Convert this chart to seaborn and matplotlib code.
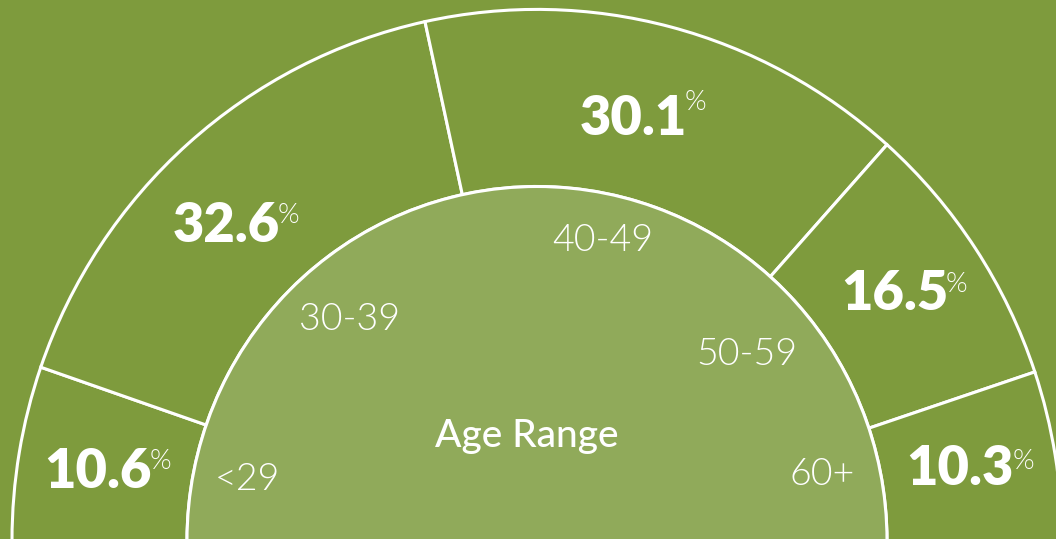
import seaborn as sns
import matplotlib.pyplot as plt

# age groups and their share (%)
age_groups = ["<29", "30-39", "40-49", "50-59", "60+"]
shares = [10.6, 32.6, 30.1, 16.5, 10.3]
center_title = "Age Range"

# label layout in image pixels (x, y from top)
pct_pos = [(152, 488), (280, 242), (687, 135), (948, 310), (1014, 485)]
sign_pos = [(150, 449), (278, 203), (685, 90), (946, 272), (1013, 449)]
group_pos = [(247, 490), (350, 330), (603, 251), (747, 365), (822, 485)]

ring_color = "#7e9b3d"
inner_color = "#90aa5a"
CY = 540.7   # centre of the arcs, pixels from top
YS = 1.012   # small vertical stretch seen in the picture


def to_data(px, py):
    return px, (CY - py) / YS


sns.set_style("white")
plt.rcParams["font.family"] = ["Lato", "DejaVu Sans"]

fig = plt.figure(figsize=(10.56, 5.39), dpi=100, facecolor=ring_color)
ax = fig.add_axes([0, 0, 1, 1])
ax.set_facecolor(ring_color)

# outer ring: the real shares fill the upper half, a hidden slice fills the rest
wedges, _ = ax.pie(shares + [sum(shares)], colors=[ring_color] * 6,
                   startangle=180, counterclock=False, center=(537, 0), radius=525,
                   wedgeprops=dict(width=175, edgecolor="white", linewidth=2.2))
wedges[-1].set_visible(False)

# inner half disc
inner, _ = ax.pie([1, 1], colors=[inner_color, "none"], startangle=180, counterclock=False,
                  center=(537, 0), radius=350,
                  wedgeprops=dict(edgecolor="white", linewidth=2.2))
inner[-1].set_visible(False)

ax.set_aspect("auto")
ax.set_xlim(0, 1056)
ax.set_ylim((CY - 539) / YS, CY / YS)
ax.axis("off")

for val, (x, y), (sx, sy) in zip(shares, pct_pos, sign_pos):
    ax.text(*to_data(x, y), "{:.1f}".format(val), color="white", fontsize=39,
            fontweight=800, ha="right", va="baseline")
    ax.text(*to_data(sx, sy), "%", color="white", fontsize=20,
            fontweight=300, ha="left", va="top")

for name, (x, y) in zip(age_groups, group_pos):
    ax.text(*to_data(x, y), name, color="white", fontsize=27,
            fontweight=300, ha="center", va="baseline")

ax.text(*to_data(527, 447), center_title, color="white", fontsize=28,
        fontweight="medium", ha="center", va="baseline")

plt.savefig("out.png", dpi=100, facecolor=ring_color)
